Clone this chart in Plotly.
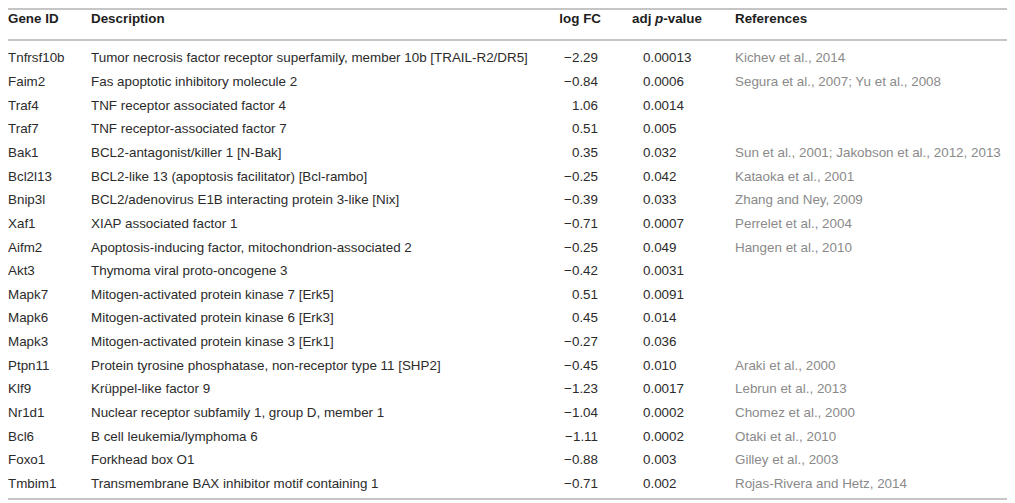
import plotly.graph_objects as go

# --- table content ---
gene_ids = ["Tnfrsf10b", "Faim2", "Traf4", "Traf7", "Bak1", "Bcl2l13", "Bnip3l", "Xaf1",
            "Aifm2", "Akt3", "Mapk7", "Mapk6", "Mapk3", "Ptpn11", "Klf9", "Nr1d1",
            "Bcl6", "Foxo1", "Tmbim1"]
descriptions = [
    "Tumor necrosis factor receptor superfamily, member 10b [TRAIL-R2/DR5]",
    "Fas apoptotic inhibitory molecule 2",
    "TNF receptor associated factor 4",
    "TNF receptor-associated factor 7",
    "BCL2-antagonist/killer 1 [N-Bak]",
    "BCL2-like 13 (apoptosis facilitator) [Bcl-rambo]",
    "BCL2/adenovirus E1B interacting protein 3-like [Nix]",
    "XIAP associated factor 1",
    "Apoptosis-inducing factor, mitochondrion-associated 2",
    "Thymoma viral proto-oncogene 3",
    "Mitogen-activated protein kinase 7 [Erk5]",
    "Mitogen-activated protein kinase 6 [Erk3]",
    "Mitogen-activated protein kinase 3 [Erk1]",
    "Protein tyrosine phosphatase, non-receptor type 11 [SHP2]",
    "Krüppel-like factor 9",
    "Nuclear receptor subfamily 1, group D, member 1",
    "B cell leukemia/lymphoma 6",
    "Forkhead box O1",
    "Transmembrane BAX inhibitor motif containing 1",
]
log_fc = [-2.29, -0.84, 1.06, 0.51, 0.35, -0.25, -0.39, -0.71, -0.25, -0.42,
          0.51, 0.45, -0.27, -0.45, -1.23, -1.04, -1.11, -0.88, -0.71]
adj_p = ["0.00013", "0.0006", "0.0014", "0.005", "0.032", "0.042", "0.033", "0.0007",
         "0.049", "0.0031", "0.0091", "0.014", "0.036", "0.010", "0.0017", "0.0002",
         "0.0002", "0.003", "0.002"]
references = [
    "Kichev et al., 2014",
    "Segura et al., 2007; Yu et al., 2008",
    "", "",
    "Sun et al., 2001; Jakobson et al., 2012, 2013",
    "Kataoka et al., 2001",
    "Zhang and Ney, 2009",
    "Perrelet et al., 2004",
    "Hangen et al., 2010",
    "", "", "", "",
    "Araki et al., 2000",
    "Lebrun et al., 2013",
    "Chomez et al., 2000",
    "Otaki et al., 2010",
    "Gilley et al., 2003",
    "Rojas-Rivera and Hetz, 2014",
]
headers = ["Gene ID", "Description", "log FC", "adj <i>p</i>-value", "References"]

# --- style ---
FONT = "Liberation Sans"
SIZE = 13.4
DARK = "#2b2b2b"
GREY = "#8a8a8a"
RULE = "#b2b2b2"

# page geometry (browser puts the plot 8px in from the corner)
OFFSET = 8
ROW0_PX = 59      # centre of first body row
ROW_PX = 23.65    # row pitch
def row_of(px):
    return (px - ROW0_PX) / ROW_PX

rows = list(range(len(gene_ids)))
fc_text = [f"{v:.2f}".replace("-", "\u2212") for v in log_fc]

# column anchors (x in page pixels), alignment
columns = [
    (gene_ids, 8, "middle right", DARK),
    (descriptions, 91, "middle right", DARK),
    (fc_text, 598, "middle left", DARK),
    (adj_p, 643, "middle right", DARK),
    (references, 735, "middle right", GREY),
]
header_x = [8, 91, 601, 632, 735]
header_pos = ["middle right", "middle right", "middle left", "middle right", "middle right"]

fig = go.Figure()
for texts, x0, pos, col in columns:
    fig.add_trace(go.Scatter(
        x=[x0] * len(texts), y=rows, text=texts, mode="text",
        textposition=pos, textfont=dict(family=FONT, size=SIZE, color=col),
        hoverinfo="skip", showlegend=False, cliponaxis=False,
    ))

fig.add_trace(go.Scatter(
    x=header_x, y=[row_of(20)] * len(headers),
    text=[f"<b>{h}</b>" for h in headers], mode="text",
    textposition=header_pos, textfont=dict(family=FONT, size=SIZE, color="#1e1e1e"),
    hoverinfo="skip", showlegend=False, cliponaxis=False,
))

# horizontal rules: top, below header, bottom
for ypx in [9, 40, 499]:
    fig.add_shape(type="line", xref="paper", x0=0, x1=1, yref="y",
                  y0=row_of(ypx), y1=row_of(ypx), line=dict(color=RULE, width=1.5))

fig.update_layout(
    width=1015, height=503,
    margin=dict(l=0, r=0, t=0, b=0),
    paper_bgcolor="white", plot_bgcolor="white",
    xaxis=dict(range=[OFFSET, 1015 + OFFSET], visible=False, fixedrange=True),
    yaxis=dict(range=[row_of(503 + OFFSET), row_of(OFFSET)], visible=False, fixedrange=True),
)

fig.write_html("out.html")
